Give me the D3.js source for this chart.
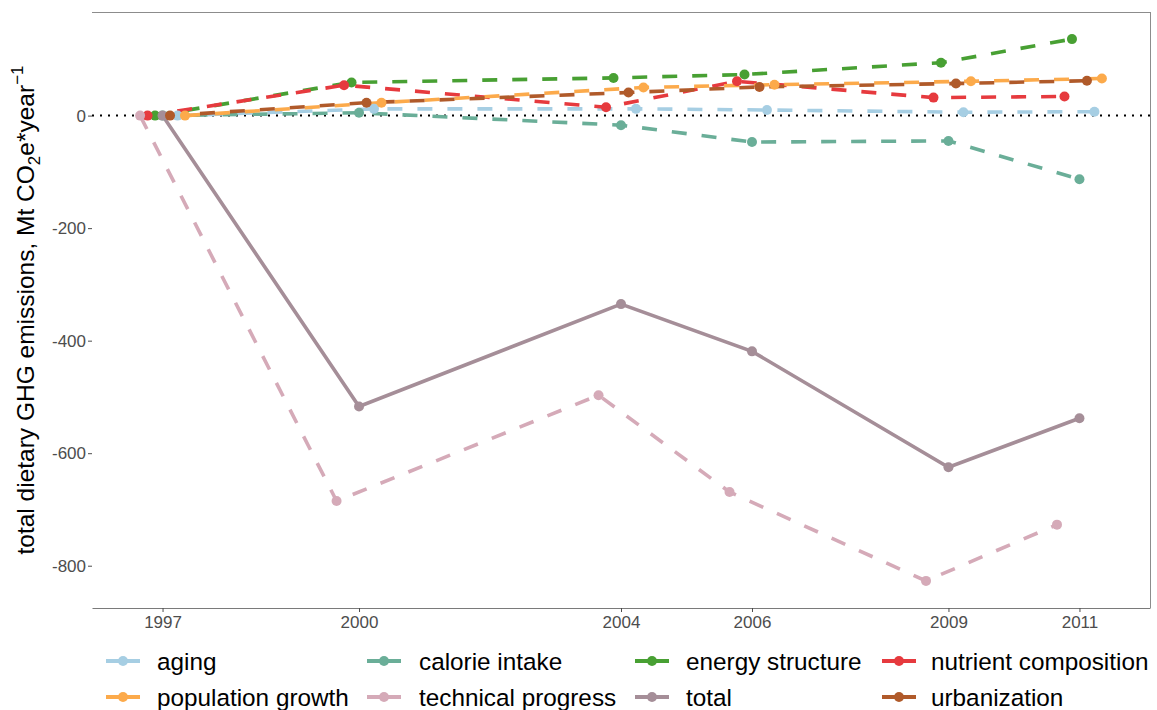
<!DOCTYPE html>
<html><head><meta charset="utf-8">
<script src="https://cdn.jsdelivr.net/npm/d3@7/dist/d3.min.js"></script>
<style>
body{margin:0;background:#fff;}
text{font-family:Arial,"Liberation Sans",sans-serif;}
</style>
</head><body>
<svg id="chart" width="1157" height="710"></svg>
<script>
// ---- data ----
const years = [1997, 2000, 2004, 2006, 2009, 2011];
const aging               = [0, 12, 12, 10, 6, 7];
const calorieIntake       = [0, 5, -17, -47, -45, -113];
const energyStructure     = [0, 59, 67, 73, 94, 136];
const nutrientComposition = [0, 54, 15, 61, 32, 34];
const populationGrowth    = [0, 23, 50, 55, 61, 66];
const technicalProgress   = [0, -685, -497, -669, -827, -727];
const total               = [0, -517, -335, -419, -625, -538];
const urbanization        = [0, 23, 41, 51, 57, 62];

const seriesNames = ["aging","calorie intake","energy structure","nutrient composition",
                     "population growth","technical progress","total","urbanization"];
const seriesValues = [aging, calorieIntake, energyStructure, nutrientComposition,
                      populationGrowth, technicalProgress, total, urbanization];
const seriesColors = ["#a6cee3","#6aae98","#48a033","#e63a3e","#fcaa4b","#d5aab8","#a58e98","#b05a2a"];
// dodge slot (total is not dodged)
const dodgeSlot = [2, 0, -1, -2, 3, -3, null, 1];
const dodgeWidth = 0.8, nDodge = 7;
const yTicks = [0, -200, -400, -600, -800];

// ---- layout ----
const svg = d3.select("#chart");
const L = 92, R = 1150, T = 12, B = 608;

const series = seriesNames.map((name, i) => ({
  name, color: seriesColors[i], solid: name === "total",
  points: years.map((yr, j) => ({
    x: yr + (dodgeSlot[i] === null ? 0 : dodgeSlot[i] * dodgeWidth / nDodge),
    v: seriesValues[i][j]
  }))
}));

const allX = series.flatMap(s => s.points.map(p => p.x));
const allV = series.flatMap(s => s.points.map(p => p.v));
const xMin = d3.min(allX), xMax = d3.max(allX), xr = xMax - xMin;
const vMin = d3.min(allV), vMax = d3.max(allV), vr = vMax - vMin;

const x = d3.scaleLinear().domain([xMin - 0.05 * xr, xMax + 0.05 * xr]).range([L, R]);
const y = d3.scaleLinear().domain([vMin - 0.05 * vr, vMax + 0.05 * vr]).range([B, T]);

// frame (top, right)
svg.append("line").attr("x1", L).attr("x2", R).attr("y1", T + 0.5).attr("y2", T + 0.5)
  .attr("stroke", "#8c8c8c").attr("stroke-width", 1);
svg.append("line").attr("x1", R + 0.5).attr("x2", R + 0.5).attr("y1", T).attr("y2", B)
  .attr("stroke", "#8c8c8c").attr("stroke-width", 1);

// x axis
const xAxis = svg.append("g").attr("transform", `translate(0,${B})`)
  .call(d3.axisBottom(x).tickValues(years).tickFormat(d3.format("d")).tickSize(4).tickSizeOuter(0));
xAxis.select(".domain").attr("stroke", "#7a7a7a").attr("stroke-width", 1.2);
xAxis.selectAll(".tick line").attr("stroke", "#4d4d4d");
xAxis.selectAll(".tick text").attr("fill", "#4d4d4d").attr("font-size", 17).attr("y", 7).attr("dy", "0.75em");

// y axis (no line)
const yAxis = svg.append("g").attr("transform", `translate(${L},0)`)
  .call(d3.axisLeft(y).tickValues(yTicks).tickFormat(d => d).tickSize(4));
yAxis.select(".domain").remove();
yAxis.selectAll(".tick line").attr("stroke", "#4d4d4d");
yAxis.selectAll(".tick text").attr("fill", "#4d4d4d").attr("font-size", 17).attr("x", -6);

// zero reference line
svg.append("line").attr("x1", L).attr("x2", R).attr("y1", y(0)).attr("y2", y(0))
  .attr("stroke", "#000").attr("stroke-width", 2).attr("stroke-dasharray", "2,6");

// lines
const line = d3.line().x(p => x(p.x)).y(p => y(p.v));
series.forEach(s => {
  svg.append("path").attr("d", line(s.points)).attr("fill", "none")
    .attr("stroke", s.color).attr("stroke-width", 3.6)
    .attr("stroke-dasharray", s.solid ? null : "15,15");
});
// points
series.forEach(s => {
  svg.append("g").selectAll("circle").data(s.points).join("circle")
    .attr("cx", p => x(p.x)).attr("cy", p => y(p.v)).attr("r", 5)
    .attr("fill", s.color);
});

// y title
const yt = svg.append("text").attr("transform", `translate(34,${(T + B) / 2}) rotate(-90)`)
  .attr("text-anchor", "middle").attr("font-size", 24.5).attr("fill", "#000");
yt.append("tspan").text("total dietary GHG emissions, Mt CO");
yt.append("tspan").text("2").attr("font-size", 17).attr("dy", 6);
yt.append("tspan").text("e*year").attr("dy", -6);
yt.append("tspan").text("\u22121").attr("font-size", 17).attr("dy", -11);

// legend
const colKey = [106, 367, 635, 882];
const colLab = [157, 419, 686, 931];
const rowY = [661, 697];
seriesNames.forEach((name, i) => {
  const c = i % 4, r = Math.floor(i / 4);
  const g = svg.append("g");
  g.append("line").attr("x1", colKey[c]).attr("x2", colKey[c] + 34)
    .attr("y1", rowY[r]).attr("y2", rowY[r]).attr("stroke", seriesColors[i]).attr("stroke-width", 4);
  g.append("circle").attr("cx", colKey[c] + 17).attr("cy", rowY[r]).attr("r", 5).attr("fill", seriesColors[i]);
  g.append("text").attr("x", colLab[c]).attr("y", rowY[r]).attr("dy", "0.35em")
    .attr("font-size", 24.3).attr("fill", "#000").text(name);
});
</script>
</body></html>
